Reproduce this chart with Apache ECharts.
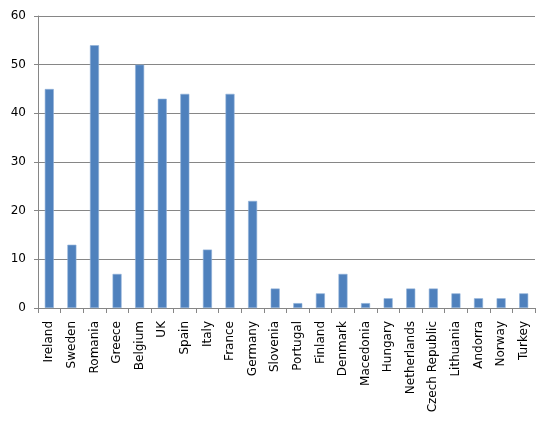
<!DOCTYPE html>
<html>
<head>
<meta charset="utf-8">
<script src="https://cdn.jsdelivr.net/npm/echarts@6/dist/echarts.min.js"></script>
<style>
html,body{margin:0;padding:0;background:#fff;}
#chart{width:542px;height:431px;}
</style>
</head>
<body>
<div id="chart"></div>
<script>
const categories = ["Ireland","Sweden","Romania","Greece","Belgium","UK","Spain","Italy","France","Germany","Slovenia","Portugal","Finland","Denmark","Macedonia","Hungary","Netherlands","Czech Republic","Lithuania","Andorra","Norway","Turkey"];
const values = [45,13,54,7,50,43,44,12,44,22,4,1,3,7,1,2,4,4,3,2,2,3];
const yMin = 0, yMax = 60, yStep = 10;

const chart = echarts.init(document.getElementById('chart'), null, {renderer:'canvas'});
chart.setOption({
  animation:false,
  grid:{left:38,right:7,top:16,bottom:123,containLabel:false},
  xAxis:{
    type:'category',
    data:categories,
    boundaryGap:true,
    axisLine:{show:true,lineStyle:{color:'#868686',width:1}},
    axisTick:{show:true,length:5,alignWithLabel:false,lineStyle:{color:'#868686'}},
    axisLabel:{rotate:90,interval:0,margin:13,color:'#000',fontFamily:'DejaVu Sans',fontSize:12},
    splitLine:{show:false}
  },
  yAxis:{
    type:'value',
    min:yMin,max:yMax,interval:yStep,
    axisLine:{show:true,lineStyle:{color:'#868686',width:1}},
    axisTick:{show:true,length:4,lineStyle:{color:'#868686'}},
    axisLabel:{margin:12,color:'#000',fontFamily:'DejaVu Sans',fontSize:12},
    splitLine:{show:true,lineStyle:{color:'#868686',width:1}}
  },
  series:[{
    type:'bar',
    data:values,
    barWidth:9,
    itemStyle:{color:'#4F81BD',borderColor:'#8fb0d9',borderWidth:0.6}
  }]
});
</script>
</body>
</html>
